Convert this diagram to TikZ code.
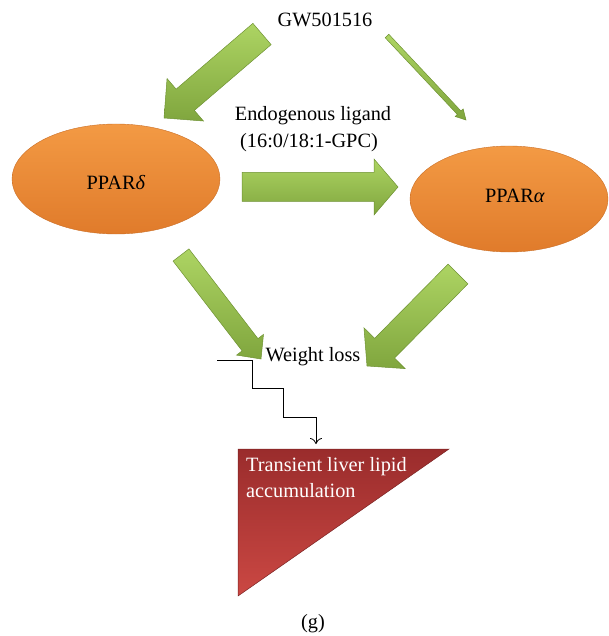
\documentclass[tikz,border=0pt]{standalone}
\usepackage{fontspec}
\setmainfont{Liberation Serif}
\usetikzlibrary{calc,arrows.meta,shapes.geometric}
\definecolor{grL}{HTML}{ADD463}
\definecolor{grD}{HTML}{80A63E}
\definecolor{grE}{HTML}{6E9232}
\definecolor{orL}{HTML}{F39A44}
\definecolor{orD}{HTML}{E07B2B}
\definecolor{rdT}{HTML}{9A2C2C}
\definecolor{rdB}{HTML}{CB4843}
\tikzset{
  lbl/.style={font=\fontsize{20.3}{23}\selectfont, inner sep=0pt},
  oval/.style={top color=orL, bottom color=orD, draw=orD!90!black, line width=0.4pt},
  garrow/.style={top color=grL, bottom color=grD, draw=grE, line width=0.5pt, line join=miter},
}
\newcommand{\blockarrow}[5]{%
  \coordinate (H) at ($(#2)!#5!(#1)$);
  \path[garrow] ($(#1)!#3/2!90:(#2)$) -- ($(H)!#3/2!90:(#2)$) -- ($(H)!#4/2!90:(#2)$) -- (#2)
     -- ($(H)!#4/2!-90:(#2)$) -- ($(H)!#3/2!-90:(#2)$) -- ($(#1)!#3/2!-90:(#2)$) -- cycle;
}
\begin{document}
\begin{tikzpicture}[x=1pt,y=-1pt]
\useasboundingbox (0,0) rectangle (608,636);

% ellipses
\draw[oval] (116,179) ellipse [x radius=104, y radius=55];
\draw[oval] (509,199) ellipse [x radius=99, y radius=53];
\node[lbl] (pd) at (116,183) {PPAR\textit{δ}};
\node[lbl] (pa) at (515,196) {PPAR\textit{α}};

\node[lbl] (gw) at (325,20) {GW501516};
\node[lbl] (en1) at (313,116) {Endogenous ligand};
\node[lbl] (en2) at (309,143) {(16:0/18:1-GPC)};
\node[lbl] (wl) at (313,357) {Weight loss};

% block arrows
\coordinate (a1s) at (262,34);  \coordinate (a1e) at (164,118);
\blockarrow{a1s}{a1e}{28pt}{56pt}{28pt}
\coordinate (a2s) at (387,36);  \coordinate (a2e) at (466,120);
\blockarrow{a2s}{a2e}{5pt}{11pt}{10pt}
\coordinate (a3s) at (242,187); \coordinate (a3e) at (398,187);
\blockarrow{a3s}{a3e}{29pt}{56pt}{24pt}
\coordinate (a4s) at (181,255); \coordinate (a4e) at (261,359);
\blockarrow{a4s}{a4e}{20pt}{34pt}{18pt}
\coordinate (a5s) at (458,274); \coordinate (a5e) at (367,366);
\blockarrow{a5s}{a5e}{28pt}{58pt}{25pt}

% triangle
\coordinate (t1) at (238,449);
\coordinate (t2) at (449,449);
\coordinate (t3) at (238,596);
\path[top color=rdT, bottom color=rdB, draw=rdT!80!black, line width=0.5pt] (t1) -- (t2) -- (t3) -- cycle;
\node[lbl, text=white, anchor=west] (tr1) at (246,467) {Transient liver lipid};
\node[lbl, text=white, anchor=west] (tr2) at (246,491) {accumulation};

% step connector
\coordinate (s0) at (217,360);
\coordinate (tt) at (316,444);
\draw[line width=0.8pt, -{To[length=6pt,width=12pt]}] (s0) -- (252,360) -- (252,388) -- (283,388) -- (283,417) -- (316,417) -- (tt);

\node[lbl] (g) at (313,624) {(g)};
\end{tikzpicture}
\end{document}
